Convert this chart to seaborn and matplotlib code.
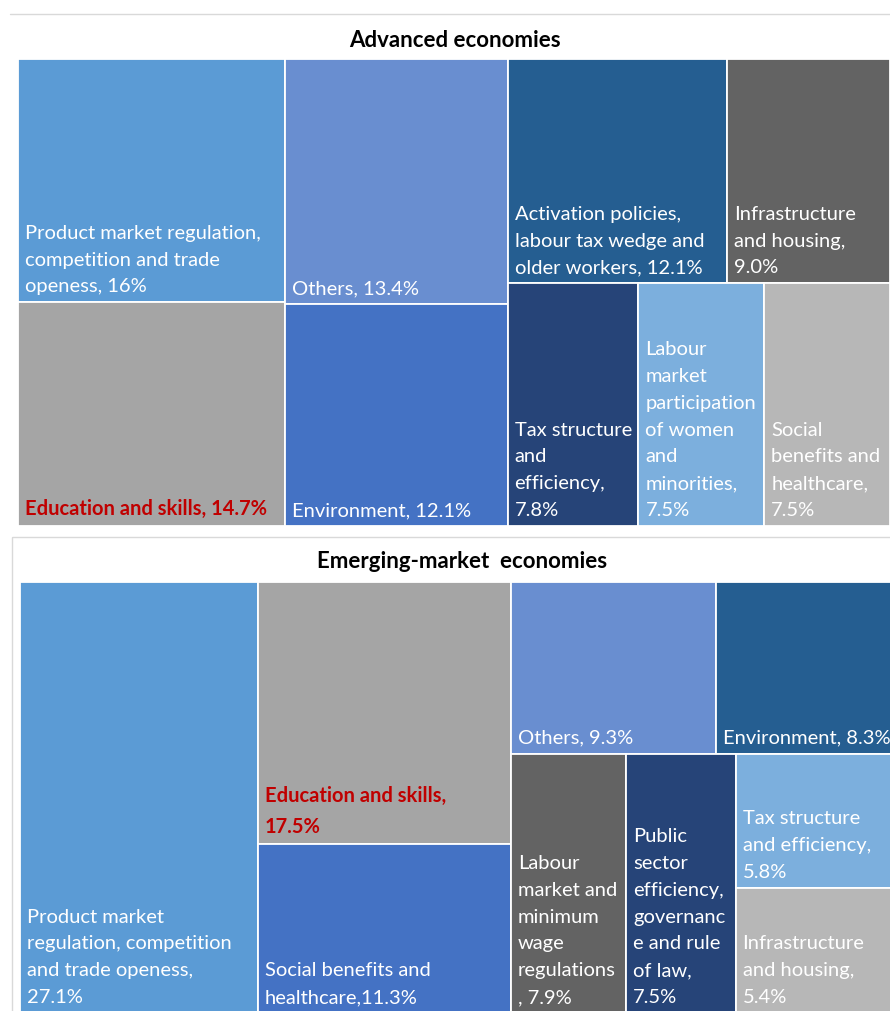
import matplotlib
matplotlib.use("Agg")
import matplotlib.pyplot as plt
from matplotlib.patches import Rectangle
import seaborn as sns

# ---- Advanced economies ----
adv_names = [
    "Product market regulation,\ncompetition and trade\nopeness, ",
    "Education and skills, ",
    "Others, ",
    "Environment, ",
    "Activation policies,\nlabour tax wedge and\nolder workers, ",
    "Infrastructure\nand housing,\n",
    "Tax structure\nand\nefficiency,\n",
    "Labour\nmarket\nparticipation\nof women\nand\nminorities,\n",
    "Social\nbenefits and\nhealthcare,\n",
]
adv_values = [16.0, 14.7, 13.4, 12.1, 12.1, 9.0, 7.8, 7.5, 7.5]
adv_decimals = [0, 1, 1, 1, 1, 1, 1, 1, 1]
adv_colors = ["#5B9BD5", "#A5A5A5", "#698ED0", "#4472C4", "#255E91",
              "#636363", "#264478", "#7CAFDD", "#B7B7B7"]
adv_highlight = [False, True, False, False, False, False, False, False, False]
# nesting of the tiles: ('h', ...) splits left to right, ('v', ...) top to bottom
adv_tree = ("h", [("v", [0, 1]),
                  ("v", [2, 3]),
                  ("v", [("h", [4, 5]), ("h", [6, 7, 8])])])

# ---- Emerging-market economies ----
em_names = [
    "Product market\nregulation, competition\nand trade openess,\n",
    "Education and skills,\n",
    "Social benefits and\nhealthcare,",
    "Others, ",
    "Environment, ",
    "Labour\nmarket and\nminimum\nwage\nregulations\n, ",
    "Public\nsector\nefficiency,\ngovernanc\ne and rule\nof law,\n",
    "Tax structure\nand efficiency,\n",
    "Infrastructure\nand housing,\n",
]
em_values = [27.1, 17.5, 11.3, 9.3, 8.3, 7.9, 7.5, 5.8, 5.4]
em_decimals = [1] * 9
em_colors = ["#5B9BD5", "#A5A5A5", "#4472C4", "#698ED0", "#255E91",
             "#636363", "#264478", "#7CAFDD", "#B7B7B7"]
em_highlight = [False, True, False, False, False, False, False, False, False]
em_tree = ("h", [0,
                 ("v", [1, 2]),
                 ("v", [("h", [3, 4]), ("h", [5, 6, ("v", [7, 8])])])])

sns.set_theme(style="white")
plt.rcParams["font.family"] = ["Lato", "DejaVu Sans"]

LABEL_SIZE = 14.5
TITLE_SIZE = 16.0


def subtotal(node, values):
    if isinstance(node, int):
        return values[node]
    return sum(subtotal(c, values) for c in node[1])


def squarify_nested(node, values, x, y, w, h, out):
    if isinstance(node, int):
        out[node] = (x, y, w, h)
        return
    direction, children = node
    totals = [subtotal(c, values) for c in children]
    whole = sum(totals)
    pos = x if direction == "h" else y
    for child, t in zip(children, totals):
        if direction == "h":
            cw = w * t / whole
            squarify_nested(child, values, pos, y, cw, h, out)
            pos += cw
        else:
            ch = h * t / whole
            squarify_nested(child, values, x, pos, w, ch, out)
            pos += ch


def draw_treemap(ax, tree, names, values, decimals, colors, highlight, box):
    x0, y0, x1, y1 = box
    rects = {}
    squarify_nested(tree, values, x0, y0, x1 - x0, y1 - y0, rects)
    for i, (x, y, w, h) in rects.items():
        ax.add_patch(Rectangle((x, y), w, h, facecolor=colors[i],
                               edgecolor="white", linewidth=1.3))
        text = f"{names[i]}{values[i]:.{decimals[i]}f}%"
        ax.text(x + 7, y + h - 8, text,
                ha="left", va="bottom", fontsize=LABEL_SIZE,
                color="#C00000" if highlight[i] else "white",
                fontweight="bold" if highlight[i] else "normal",
                linespacing=1.70, clip_on=True)


fig = plt.figure(figsize=(8.9, 10.12), dpi=100)
ax = fig.add_axes([0, 0, 1, 1])
ax.set_xlim(0, 890)
ax.set_ylim(1012, 0)
ax.axis("off")

# frame lines around the two panels
ax.plot([10, 890], [15, 15], color="#D9D9D9", linewidth=1.0)
ax.add_patch(Rectangle((12, 538), 900, 500, facecolor="none",
                       edgecolor="#D9D9D9", linewidth=1.0))

ax.text(455, 40, "Advanced economies", ha="center", va="center",
        fontsize=TITLE_SIZE, fontweight="bold", color="black")
draw_treemap(ax, adv_tree, adv_names, adv_values, adv_decimals, adv_colors,
             adv_highlight, (18, 60, 890, 527))

ax.text(462, 561, "Emerging-market  economies", ha="center", va="center",
        fontsize=TITLE_SIZE, fontweight="bold", color="black")
draw_treemap(ax, em_tree, em_names, em_values, em_decimals, em_colors,
             em_highlight, (20, 583, 899, 1014))

fig.savefig("out.png", dpi=100)
